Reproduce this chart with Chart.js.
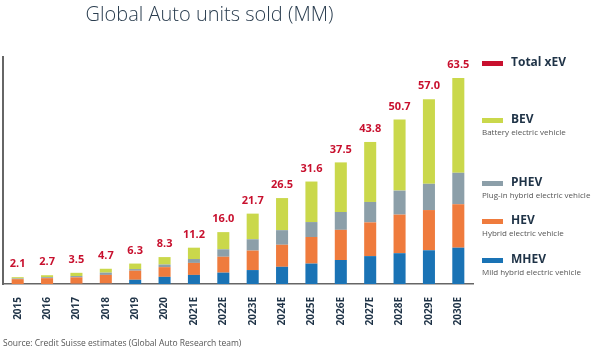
<!DOCTYPE html>
<html>
<head>
<meta charset="utf-8">
<script src="https://cdn.jsdelivr.net/npm/chart.js@4/dist/chart.umd.min.js"></script>
<style>
  html, body { margin: 0; padding: 0; background: #fff; }
  #wrap { position: relative; width: 591px; height: 351px; overflow: hidden; font-family: "Open Sans", sans-serif; }
  #chart { position: absolute; left: 0; top: 0; }
  .title { position: absolute; left: 0; width: 419px; top: 0; text-align: center; font-size: 20px; font-weight: 300; color: #2a3d4f; }
  .source { position: absolute; left: 3px; top: 337px; font-size: 8.5px; color: #555; }
  .leg { position: absolute; left: 482px; }
  .leg .sw { position: absolute; left: 0; width: 21px; height: 5px; }
  .leg .name { position: absolute; left: 29px; font-size: 12px; font-weight: 700; color: #1f3347; white-space: nowrap; line-height: 14px; }
  .leg .desc { position: absolute; left: 0; font-size: 8px; color: #555; white-space: nowrap; line-height: 10px; }
</style>
</head>
<body>
<div id="wrap">
  <canvas id="chart" width="591" height="351"></canvas>
  <div class="title">Global Auto units sold (MM)</div>
  <div class="source">Source: Credit Suisse estimates (Global Auto Research team)</div>
  <div id="legend"></div>
</div>
<script>
const categories = ['2015', '2016', '2017', '2018', '2019', '2020', '2021E', '2022E',
    '2023E', '2024E', '2025E', '2026E', '2027E', '2028E', '2029E', '2030E'];
const mhev = [0.0, 0.0, 0.05, 0.1, 1.3, 2.2, 2.8, 3.5, 4.3, 5.3, 6.3, 7.4, 8.6, 9.5, 10.4, 11.2];
const hev  = [1.5, 1.8, 2.0, 2.7, 2.8, 3.0, 3.7, 4.9, 6.0, 6.8, 8.2, 9.3, 10.4, 11.9, 12.4, 13.4];
const phev = [0.2, 0.3, 0.4, 0.7, 0.5, 0.8, 1.2, 2.3, 3.5, 4.5, 4.6, 5.5, 6.3, 7.4, 8.1, 9.7];
const bev  = [0.4, 0.6, 1.0, 1.2, 1.7, 2.3, 3.5, 5.3, 7.9, 9.9, 12.5, 15.3, 18.5, 21.9, 26.1, 29.2];
const totals = ['2.1', '2.7', '3.5', '4.7', '6.3', '8.3', '11.2', '16.0',
    '21.7', '26.5', '31.6', '37.5', '43.8', '50.7', '57.0', '63.5'];

const seriesNames = ['Total xEV', 'BEV', 'PHEV', 'HEV', 'MHEV'];
const seriesDesc = ['', 'Battery electric vehicle', 'Plug-in hybrid electric vehicle',
    'Hybrid electric vehicle', 'Mild hybrid electric vehicle'];

const RED = '#c8102e';
const colors = { 'Total xEV': RED, BEV: '#cad84b', PHEV: '#8c9fa9', HEV: '#ef7b3d', MHEV: '#1a73b5' };
const legendY = [63, 120, 183, 221, 260];

// legend on the right, built from the series names
const legend = document.getElementById('legend');
seriesNames.forEach((name, i) => {
    const item = document.createElement('div');
    item.className = 'leg';
    item.style.top = legendY[i] + 'px';
    item.innerHTML = `<div class="sw" style="top:-2.5px;background:${colors[name]}"></div>` +
        `<div class="name" style="top:-8px">${name}</div>` +
        (seriesDesc[i] ? `<div class="desc" style="top:7px">${seriesDesc[i]}</div>` : '');
    legend.appendChild(item);
});

const totalLabels = {
    id: 'totalLabels',
    afterDatasetsDraw(chart) {
        const ctx = chart.ctx;
        const meta = chart.getDatasetMeta(chart.data.datasets.length - 1);
        ctx.save();
        ctx.fillStyle = RED;
        ctx.font = 'bold 11px "Open Sans"';
        ctx.textAlign = 'center';
        ctx.textBaseline = 'middle';
        meta.data.forEach((bar, i) => {
            ctx.fillText(totals[i], bar.x, bar.y - 13);
        });
        ctx.restore();
    }
};

new Chart(document.getElementById('chart'), {
    type: 'bar',
    data: {
        labels: categories,
        datasets: [
            { label: 'MHEV', data: mhev, backgroundColor: colors.MHEV },
            { label: 'HEV', data: hev, backgroundColor: colors.HEV },
            { label: 'PHEV', data: phev, backgroundColor: colors.PHEV },
            { label: 'BEV', data: bev, backgroundColor: colors.BEV }
        ]
    },
    options: {
        responsive: false,
        animation: false,
        layout: { padding: { left: 3, right: 118, top: 57, bottom: 0 } },
        datasets: { bar: { barPercentage: 0.41, categoryPercentage: 1 } },
        plugins: { legend: { display: false }, tooltip: { enabled: false } },
        scales: {
            x: {
                stacked: true,
                grid: { display: false },
                border: { display: true, color: '#666', width: 1.5 },
                ticks: {
                    minRotation: 90, maxRotation: 90, padding: 5,
                    color: '#1f3347',
                    font: { family: '"Open Sans"', size: 10, weight: 'bold' }
                },
                afterFit(scale) { scale.height = 67; }
            },
            y: {
                stacked: true,
                min: 0, max: 70,
                grid: { display: false, drawTicks: false },
                border: { display: true, color: '#666', width: 2 },
                ticks: { display: false },
                afterFit(scale) { scale.width = 0; }
            }
        }
    },
    plugins: [totalLabels]
});
</script>
</body>
</html>
